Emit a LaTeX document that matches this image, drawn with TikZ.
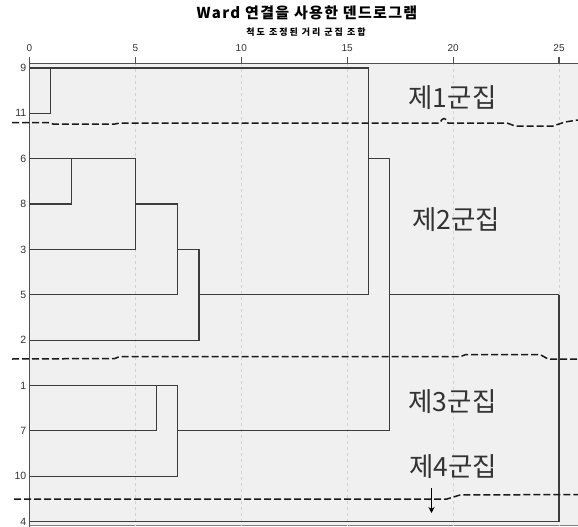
\documentclass[tikz,border=0pt]{standalone}
\usepackage{fontspec}
\setmainfont{Liberation Sans}
\newfontfamily\kr{Noto Sans CJK KR}
\usetikzlibrary{positioning,arrows.meta}
\definecolor{panel}{HTML}{F0F0F0}
\definecolor{linkgray}{HTML}{3C3C3C}
\definecolor{gridgray}{HTML}{D2D2D2}
\definecolor{labgray}{HTML}{333333}
\tikzset{
  link/.style={draw=linkgray,line width=1.2pt},
  axisline/.style={draw=linkgray!90,line width=1.5pt},
  grid5/.style={draw=gridgray,line width=0.8pt,dash pattern=on 3pt off 3pt},
  cut/.style={draw=black!90,line width=1.5pt,dash pattern=on 7pt off 3pt},
  leaf/.style={anchor=east,xshift=-2pt,inner sep=1pt,text=labgray,font=\fontsize{10.5}{11}\selectfont},
  ticklab/.style={inner sep=0pt,text=labgray,font=\fontsize{10}{11}\selectfont},
  grp/.style={inner sep=0pt,text=black!80,font=\kr\fontsize{26.5}{29}\selectfont}
}

\begin{document}
\begin{tikzpicture}[x=1pt,y=-1pt]
  \useasboundingbox (0,0) rectangle (578,527);

  % titles
  \node (title) at (307,13) {\kr\bfseries\fontsize{15}{17}\selectfont\addfontfeatures{LetterSpace=9}Ward 연결을 사용한 덴드로그램};
  \node (sub) at (306,32) {\kr\bfseries\fontsize{9}{10}\selectfont\addfontfeatures{LetterSpace=22}척도 조정된 거리 군집 조합};

  % panel + axes
  \fill[panel] (29.5,63.5) rectangle (578,526);
  \draw[draw=gray,line width=0.8pt] (29.5,525.5) -- (578,525.5);

  \begin{scope}[shift={(29.5,68)},x=21.18pt,y=-45.35pt]
    % grid + ticks
    \foreach \t in {5,10,...,25}
      \draw[grid5] (\t,-0.1) -- (\t,10.1);
    \foreach \t in {0,5,...,25}
      {\draw[axisline,line width=1.2pt] (\t,-0.1) -- (\t,-0.24);
       \node[ticklab] (t\t) at (\t,-0.44) {\t};}

    % leaves
    \foreach \lab [count=\r from 0] in {9,11,6,8,3,5,2,1,7,10,4}
      {\coordinate (p\lab) at (0,\r);
       \node[leaf] (n\lab) at (p\lab) {\lab};}

    % merge points
    \foreach \k/\x/\r in {k1/1/0, k2/2/2, k3/5/3, k4/7/4, k5/8/5, k6/16/2, k7/6/7, k8/7/8, k9/17/5, k10/25/5}
      \coordinate (\k) at (\x,\r);

    % links
    \foreach \a/\b in {p9/k1, p11/k1, p6/k2, p8/k2, k2/k3, p3/k3, k3/k4, p5/k4, k4/k5, p2/k5,
                       k1/k6, k5/k6, p1/k7, p7/k7, k7/k8, p10/k8, k6/k9, k8/k9, k9/k10, p4/k10}
      \draw[link] (\a) -| (\b);
  \end{scope}

  \draw[axisline] (29.5,63.5) -- (578,63.5);
  \draw[axisline] (29.5,63.5) -- (29.5,527);

  % cut lines
  \draw[cut] (12,122.5) -- (48,122.5) -- (53,124) -- (115,124) -- (120,123) -- (440,123)
     .. controls (442,117) and (446,117) .. (448,123) -- (507,123) -- (515,126) -- (553,126)
     -- (565,122) -- (578,120);
  \draw[cut] (12,359) -- (115,358.5) -- (119,356.7) -- (460,356.7) -- (466,354.5)
     -- (540,354.5) -- (548,359) -- (578,359);
  \draw[cut] (14,499) -- (447,499) -- (460,495) -- (578,494.5);

  % cluster labels
  \node[grp] (g1) at (452.5,98) {제1군집};
  \node[grp] (g2) at (456,220) {제2군집};
  \node[grp] (g3) at (452.5,402) {제3군집};
  \node[grp] (g4) at (453,467) {제4군집};

  \coordinate (arrtop) at (431.5,488);
  \coordinate (arrtip) at (431.5,513);
  \draw[-{Stealth[length=6pt,width=6pt]},line width=1pt] (arrtop) -- (arrtip);
\end{tikzpicture}
\end{document}
